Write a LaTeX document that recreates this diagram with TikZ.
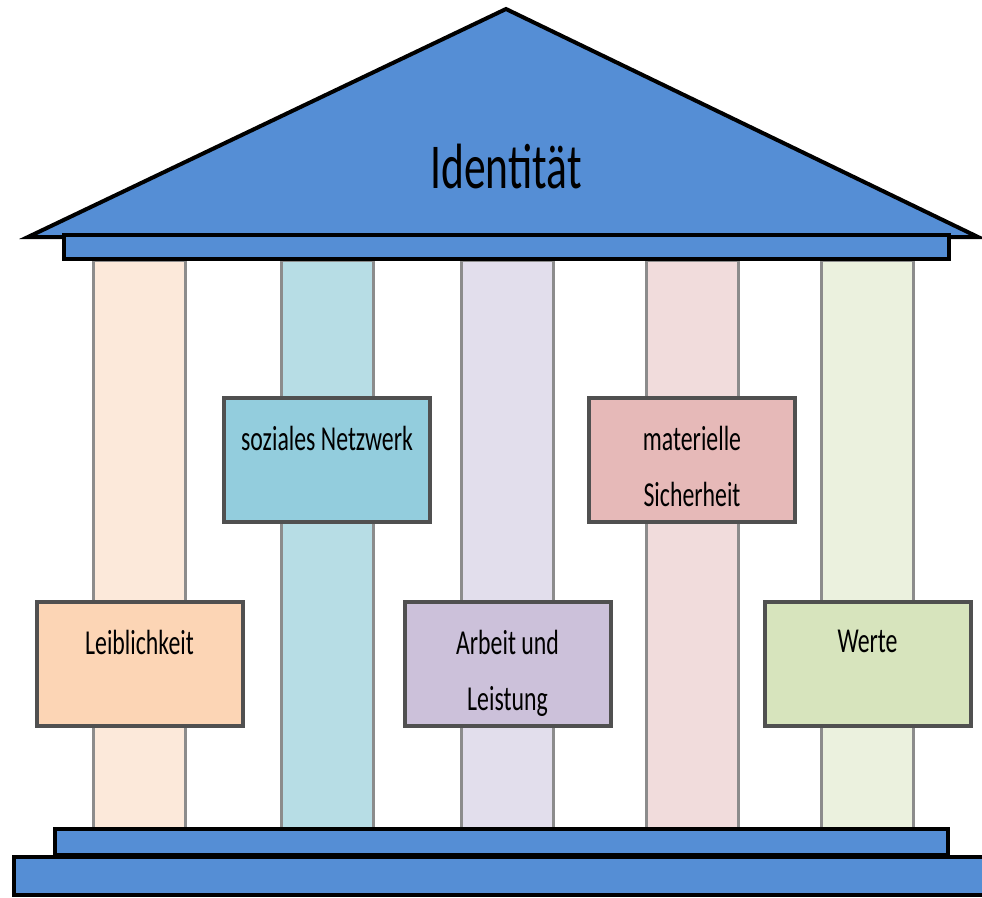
\documentclass[tikz,border=0pt]{standalone}
\usepackage{fontspec}
\setmainfont{Carlito}[FakeStretch=0.68]
\usetikzlibrary{positioning}

\definecolor{roofblue}{HTML}{558ED5}
\definecolor{pillarline}{HTML}{8C8C8C}
\definecolor{tagline}{HTML}{505050}
\definecolor{leibpale}{HTML}{FCE9DA}
\definecolor{leibfill}{HTML}{FCD5B5}
\definecolor{sozpale}{HTML}{B7DDE5}
\definecolor{sozfill}{HTML}{93CDDD}
\definecolor{arbpale}{HTML}{E2DEEC}
\definecolor{arbfill}{HTML}{CCC1DA}
\definecolor{matpale}{HTML}{F1DCDC}
\definecolor{matfill}{HTML}{E6B9B8}
\definecolor{wertpale}{HTML}{EBF1DE}
\definecolor{wertfill}{HTML}{D7E4BD}

\begin{document}
\begin{tikzpicture}[
    x=1pt, y=-1pt,
    slab/.style={rectangle, draw=black, line width=4pt, fill=roofblue, inner sep=0pt},
    pillar/.style={rectangle, draw=pillarline, line width=3pt, minimum width=92pt, minimum height=570pt, inner sep=0pt},
    tag/.style={rectangle, draw=tagline, line width=4pt, minimum width=206pt, minimum height=124pt, inner sep=0pt,
        label={[anchor=north, yshift=-30pt, align=center, inner sep=0pt, font=\fontsize{35}{56}\selectfont]north:#1}}
]
    \useasboundingbox (0,0) rectangle (982,897);

    % columns
    \node[pillar, fill=leibpale] (col1) at (139.5,545) {};
    \node[pillar, fill=sozpale] (col2) at (327,545) {};
    \node[pillar, fill=arbpale] (col3) at (507.5,545) {};
    \node[pillar, fill=matpale] (col4) at (692,545) {};
    \node[pillar, fill=wertpale] (col5) at (867.5,545) {};

    % roof and beam
    \draw[slab, line join=miter] (28,237) -- (506,9) -- (978,237) -- cycle;
    \node[font=\fontsize{64}{70}\selectfont] (title) at (506,167) {Identität};
    \node[slab, minimum width=885pt, minimum height=24pt] (beam) at (506,247) {};

    % steps
    \node[slab, minimum width=893pt, minimum height=26pt] (step1) at (501.5,842) {};
    \node[slab, minimum width=985pt, minimum height=38pt] (step2) at (506,876) {};

    % labels on the columns
    \node[tag=Leiblichkeit, fill=leibfill] (leib) at (col1 |- 0,663.5) {};
    \node[tag=soziales Netzwerk, fill=sozfill] (soz) at (col2 |- 0,459.5) {};
    \node[tag={Arbeit und\\Leistung}, fill=arbfill] (arb) at (col3 |- 0,663.5) {};
    \node[tag={materielle\\Sicherheit}, fill=matfill] (mat) at (col4 |- 0,459.5) {};
    \node[tag=Werte, fill=wertfill] (wert) at (col5 |- 0,663.5) {};
\end{tikzpicture}
\end{document}
